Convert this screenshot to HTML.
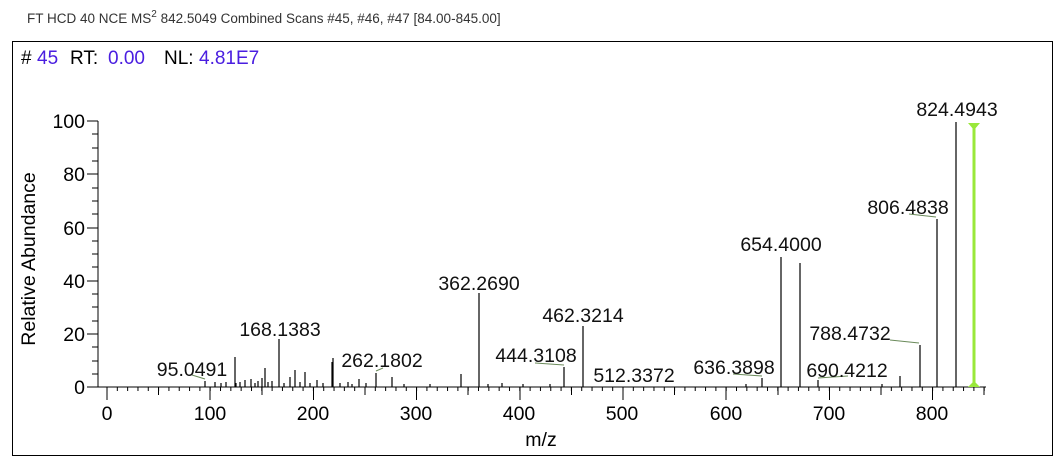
<!DOCTYPE html>
<html><head><meta charset="utf-8"><style>
html,body{margin:0;padding:0;background:#fff;}
svg{display:block;font-family:"Liberation Sans",Arial,sans-serif;}
</style></head><body>
<svg width="1064" height="465" viewBox="0 0 1064 465" xmlns="http://www.w3.org/2000/svg">
<defs>
<pattern id="mt" patternUnits="userSpaceOnUse" x="106.5" y="0" width="10.32" height="10"><rect x="0" y="0" width="1" height="10" fill="#000"/></pattern>
</defs>
<text x="27" y="23" font-size="13.5" fill="#333">FT HCD 40 NCE MS<tspan dy="-6" font-size="10">2</tspan><tspan dy="6"> 842.5049 Combined Scans #45, #46, #47 [84.00-845.00]</tspan></text>
<rect x="12.5" y="41.5" width="1040" height="414" fill="none" stroke="#000" stroke-width="1"/>
<g font-size="19">
<text x="21" y="64" fill="#000">#</text>
<text x="37" y="64" fill="#4a1ee0">45</text>
<text x="70" y="64" fill="#000">RT:</text>
<text x="108" y="64" fill="#4a1ee0">0.00</text>
<text x="164" y="64" fill="#000">NL:</text>
<text x="199" y="64" fill="#4a1ee0">4.81E7</text>
</g>
<g stroke="#000" stroke-width="1" shape-rendering="crispEdges">
<line x1="98" y1="121" x2="98" y2="387"/>
<line x1="98" y1="387" x2="986" y2="387"/>
<line x1="87" y1="121" x2="98" y2="121"/><line x1="87" y1="174" x2="98" y2="174"/><line x1="87" y1="228" x2="98" y2="228"/><line x1="87" y1="281" x2="98" y2="281"/><line x1="87" y1="334" x2="98" y2="334"/><line x1="87" y1="387" x2="98" y2="387"/>
<line x1="92" y1="134" x2="98" y2="134"/><line x1="92" y1="148" x2="98" y2="148"/><line x1="92" y1="161" x2="98" y2="161"/>
<line x1="92" y1="188" x2="98" y2="188"/><line x1="92" y1="201" x2="98" y2="201"/><line x1="92" y1="214" x2="98" y2="214"/>
<line x1="92" y1="241" x2="98" y2="241"/><line x1="92" y1="254" x2="98" y2="254"/><line x1="92" y1="267" x2="98" y2="267"/>
<line x1="92" y1="294" x2="98" y2="294"/><line x1="92" y1="307" x2="98" y2="307"/><line x1="92" y1="321" x2="98" y2="321"/>
<line x1="92" y1="347" x2="98" y2="347"/><line x1="92" y1="361" x2="98" y2="361"/><line x1="92" y1="374" x2="98" y2="374"/>
</g>
<rect x="99" y="387" width="887" height="4" fill="url(#mt)"/>
<g stroke="#000" stroke-width="1" shape-rendering="crispEdges">
<line x1="107" y1="387" x2="107" y2="400"/><line x1="210.2" y1="387" x2="210.2" y2="400"/><line x1="313.4" y1="387" x2="313.4" y2="400"/><line x1="416.6" y1="387" x2="416.6" y2="400"/><line x1="519.8" y1="387" x2="519.8" y2="400"/><line x1="623" y1="387" x2="623" y2="400"/><line x1="726.2" y1="387" x2="726.2" y2="400"/><line x1="829.4" y1="387" x2="829.4" y2="400"/><line x1="932.6" y1="387" x2="932.6" y2="400"/>
<line x1="158.6" y1="387" x2="158.6" y2="395"/><line x1="261.8" y1="387" x2="261.8" y2="395"/><line x1="365" y1="387" x2="365" y2="395"/><line x1="468.2" y1="387" x2="468.2" y2="395"/><line x1="571.4" y1="387" x2="571.4" y2="395"/><line x1="674.6" y1="387" x2="674.6" y2="395"/><line x1="777.8" y1="387" x2="777.8" y2="395"/><line x1="881" y1="387" x2="881" y2="395"/><line x1="984.2" y1="387" x2="984.2" y2="395"/>
</g>
<g font-size="19.5" fill="#000" text-anchor="end">
<text x="85" y="128">100</text><text x="85" y="181">80</text><text x="85" y="235">60</text><text x="85" y="288">40</text><text x="85" y="341">20</text><text x="85" y="394">0</text>
</g>
<g font-size="19.5" fill="#000" text-anchor="middle">
<text x="107" y="420">0</text><text x="210" y="420">100</text><text x="313" y="420">200</text><text x="416" y="420">300</text><text x="519" y="420">400</text><text x="622" y="420">500</text><text x="726" y="420">600</text><text x="829" y="420">700</text><text x="932" y="420">800</text>
<text x="541" y="446">m/z</text>
</g>
<text transform="translate(35,259) rotate(-90)" font-size="19.5" text-anchor="middle">Relative Abundance</text>
<g stroke="#000" stroke-width="1.2">
<line x1="956" y1="122" x2="956" y2="387"/>
<line x1="937" y1="219" x2="937" y2="387"/>
<line x1="920" y1="345" x2="920" y2="387"/>
<line x1="900" y1="376" x2="900" y2="387"/>
<line x1="818" y1="380" x2="818" y2="387"/>
<line x1="800" y1="263" x2="800" y2="387"/>
<line x1="781" y1="257" x2="781" y2="387"/>
<line x1="762" y1="378" x2="762" y2="387"/>
<line x1="583" y1="326" x2="583" y2="387"/>
<line x1="564" y1="367" x2="564" y2="387"/>
<line x1="479" y1="293" x2="479" y2="387"/>
<line x1="461" y1="374" x2="461" y2="387"/>
<line x1="333" y1="358" x2="333" y2="387"/>
<line x1="279" y1="339" x2="279" y2="387"/>
<line x1="235" y1="357" x2="235" y2="387"/>
<line x1="376" y1="373" x2="376" y2="387"/>
<line x1="295" y1="370" x2="295" y2="387"/><line x1="265" y1="368" x2="265" y2="387"/><line x1="262" y1="378" x2="262" y2="387"/>
<line x1="305" y1="372" x2="305" y2="387"/><line x1="290" y1="377" x2="290" y2="387"/><line x1="332" y1="362" x2="332" y2="387"/>
<line x1="392" y1="377" x2="392" y2="387"/><line x1="359" y1="379" x2="359" y2="387"/><line x1="245" y1="380" x2="245" y2="387"/>
<line x1="205" y1="381" x2="205" y2="387"/><line x1="251" y1="379" x2="251" y2="387"/><line x1="226" y1="382" x2="226" y2="387"/>
<line x1="215" y1="382" x2="215" y2="387"/><line x1="317" y1="380" x2="317" y2="387"/><line x1="348" y1="382" x2="348" y2="387"/>
<line x1="236" y1="383" x2="236" y2="387"/><line x1="258" y1="381" x2="258" y2="387"/><line x1="272" y1="381" x2="272" y2="387"/>
<line x1="502" y1="383" x2="502" y2="387"/><line x1="550" y1="384" x2="550" y2="387"/><line x1="974" y1="369" x2="974" y2="387"/>
<line x1="221" y1="383" x2="221" y2="387"/><line x1="240" y1="382" x2="240" y2="387"/><line x1="255" y1="383" x2="255" y2="387"/><line x1="268" y1="382" x2="268" y2="387"/><line x1="284" y1="383" x2="284" y2="387"/><line x1="300" y1="382" x2="300" y2="387"/><line x1="310" y1="383" x2="310" y2="387"/><line x1="323" y1="383" x2="323" y2="387"/><line x1="340" y1="383" x2="340" y2="387"/><line x1="352" y1="384" x2="352" y2="387"/><line x1="366" y1="383" x2="366" y2="387"/><line x1="404" y1="384" x2="404" y2="387"/><line x1="430" y1="384" x2="430" y2="387"/><line x1="488" y1="384" x2="488" y2="387"/><line x1="523" y1="384" x2="523" y2="387"/><line x1="746" y1="384" x2="746" y2="387"/><line x1="882" y1="384" x2="882" y2="387"/>
</g>
<line x1="974" y1="124" x2="974" y2="387" stroke="#99e83a" stroke-width="3"/>
<polygon points="968,123 980,123 974,130" fill="#99e83a"/>
<polygon points="968,387 980,387 974,381" fill="#99e83a"/>
<g stroke="#6a8a5a" stroke-width="1">
<line x1="909" y1="214" x2="936" y2="217"/>
<line x1="890" y1="340" x2="919" y2="343"/>
<line x1="818" y1="378" x2="848" y2="376"/>
<line x1="733" y1="374" x2="762" y2="376"/>
<line x1="535" y1="363" x2="564" y2="365"/>
<line x1="192" y1="375" x2="205" y2="379"/>
<line x1="376" y1="371" x2="383" y2="368"/>
</g>
<g font-size="19.5" fill="#111" text-anchor="middle">
<text x="957" y="116">824.4943</text>
<text x="908" y="214">806.4838</text>
<text x="781" y="251">654.4000</text>
<text x="850" y="340">788.4732</text>
<text x="847" y="377">690.4212</text>
<text x="734" y="374">636.3898</text>
<text x="634" y="382">512.3372</text>
<text x="583" y="322">462.3214</text>
<text x="536" y="362">444.3108</text>
<text x="479" y="290">362.2690</text>
<text x="382" y="367">262.1802</text>
<text x="280" y="336">168.1383</text>
<text x="192" y="376">95.0491</text>
</g>
</svg>
</body></html>
